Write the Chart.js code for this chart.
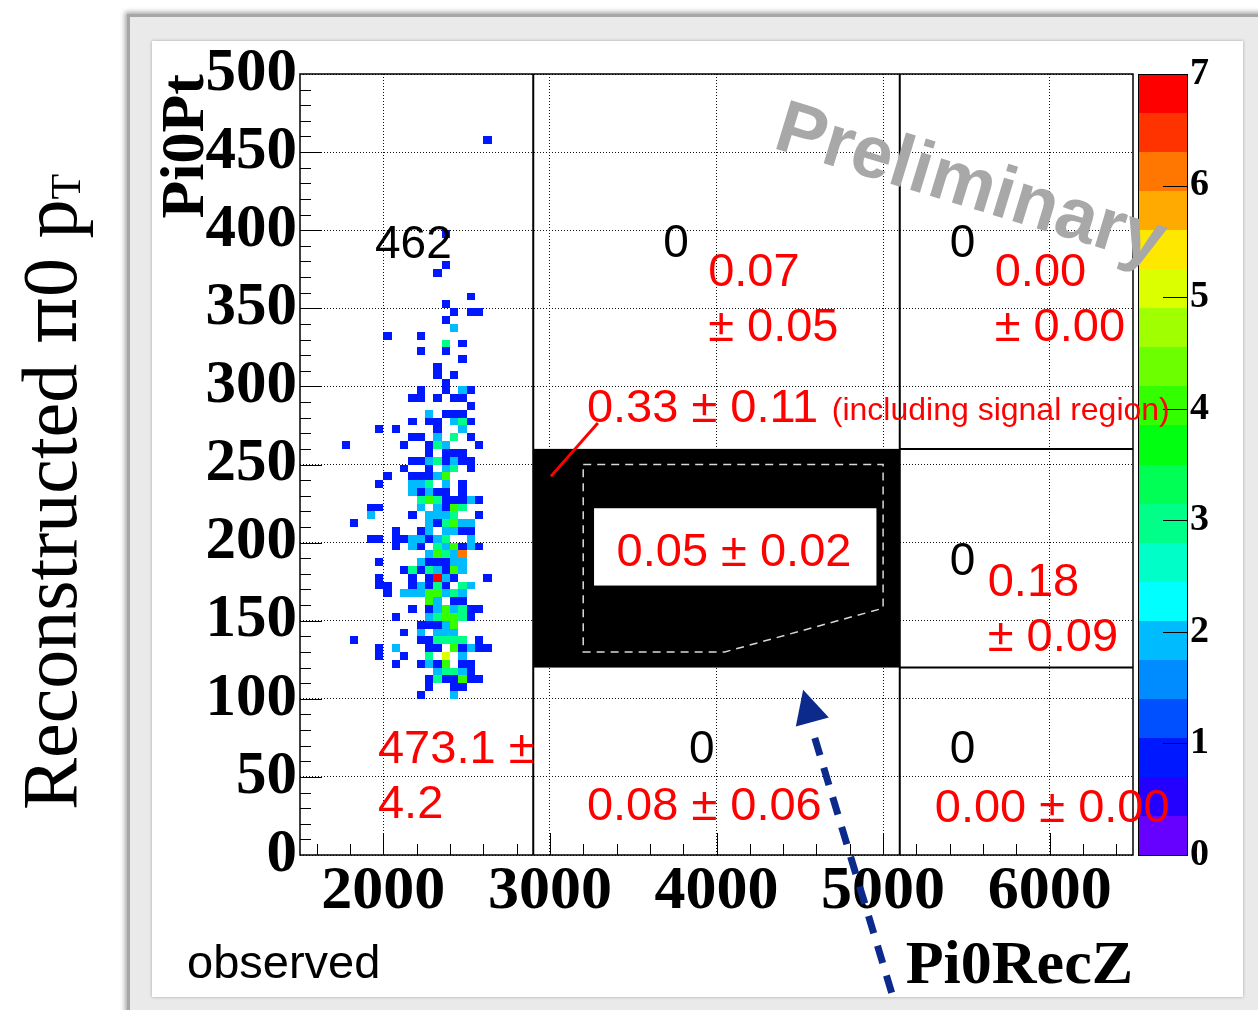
<!DOCTYPE html>
<html>
<head>
<meta charset="utf-8">
<title>Pi0Pt vs Pi0RecZ</title>
<script src="https://cdn.jsdelivr.net/npm/chart.js@4.4.1/dist/chart.umd.min.js"></script>
<style>
  html, body { margin: 0; padding: 0; background: #fff; }
  body { position: relative; width: 1258px; height: 1010px; overflow: hidden; }
  #frame { position: absolute; left: 127px; top: 14px; width: 1200px; height: 1100px;
           background: #eaeaea; border-left: 3px solid #a6a6a6; border-top: 3px solid #a6a6a6;
           box-shadow: -2px -2px 5px rgba(0,0,0,0.35); }
  #panel { position: absolute; left: 152px; top: 41px; width: 1091px; height: 956px;
           background: #fff; box-shadow: 0 0 3px rgba(0,0,0,0.3); }
  #hist { position: absolute; left: 0; top: 0; }
</style>
</head>
<body>
<div id="frame"></div>
<div id="panel"></div>
<canvas id="hist" width="1258" height="1010"></canvas>
<script>
// axis ranges and tick labels
const xRange = [1500, 6500];
const yRange = [0, 500];
const xTicks = [2000, 3000, 4000, 5000, 6000];
const yTicks = [0, 50, 100, 150, 200, 250, 300, 350, 400, 450, 500];
const zTicks = [0, 1, 2, 3, 4, 5, 6, 7];
const zMax = 7;
const xMinorStep = 200, yMinorStep = 10;

// filled bins: [Pi0RecZ low edge, Pi0Pt low edge, entries]
const binW = 50, binH = 5;
const cells = [
  [2600,455,1],
  [2350,395,1],
  [2350,375,1],
  [2300,370,1],
  [2500,355,1],
  [2350,350,1],
  [2400,345,1],[2500,345,1],[2550,345,1],
  [2350,340,1],
  [2400,335,2],
  [2000,330,1],[2200,330,1],
  [2350,325,3],[2450,325,1],
  [2200,320,1],[2350,320,1],
  [2450,315,1],
  [2300,310,1],
  [2300,305,1],[2400,305,1],
  [2350,300,1],
  [2200,295,1],[2350,295,1],[2450,295,2],[2500,295,1],
  [2150,290,1],[2200,290,1],[2300,290,1],[2400,290,1],[2450,290,1],
  [2500,285,1],
  [2250,280,2],[2350,280,1],[2400,280,1],[2450,280,1],
  [2150,275,1],[2250,275,1],[2300,275,1],[2400,275,2],[2450,275,3],[2500,275,1],
  [1950,270,1],[2050,270,1],[2300,270,1],[2450,270,2],
  [2150,265,1],[2200,265,1],[2300,265,2],[2400,265,3],[2500,265,1],
  [1750,260,1],[2100,260,1],[2250,260,1],[2300,260,3],[2350,260,2],[2550,260,1],
  [2250,255,1],[2350,255,1],[2400,255,1],[2450,255,1],
  [2150,250,1],[2200,250,1],[2250,250,2],[2300,250,3],[2350,250,1],[2400,250,2],[2450,250,1],[2500,250,1],
  [2100,245,1],[2250,245,1],[2350,245,2],[2400,245,3],[2500,245,1],
  [2000,240,1],[2150,240,1],[2200,240,1],[2250,240,1],[2300,240,2],[2350,240,4],
  [1950,235,1],[2150,235,2],[2200,235,2],[2250,235,3],[2350,235,2],[2450,235,1],
  [2150,230,2],[2200,230,1],[2250,230,2],[2300,230,1],[2350,230,1],[2450,230,1],
  [2200,225,3],[2250,225,4],[2300,225,3],[2350,225,1],[2400,225,1],[2450,225,1],[2500,225,2],[2550,225,1],
  [1900,220,1],[1950,220,1],[2200,220,2],[2300,220,2],[2350,220,1],[2400,220,4],[2450,220,3],
  [1900,215,2],[2150,215,1],[2250,215,2],[2300,215,2],[2350,215,2],[2400,215,3],[2550,215,1],
  [1800,210,1],[2250,210,2],[2300,210,1],[2350,210,3],[2400,210,4],[2450,210,2],[2500,210,2],
  [2050,205,1],[2200,205,1],[2250,205,2],[2350,205,2],[2400,205,2],[2450,205,1],[2500,205,1],
  [1900,200,1],[1950,200,1],[2050,200,1],[2100,200,1],[2150,200,2],[2200,200,2],[2250,200,1],[2300,200,2],[2350,200,3],[2500,200,2],
  [2050,195,1],[2150,195,2],[2200,195,1],[2300,195,3],[2350,195,2],[2400,195,4],[2450,195,1],[2500,195,2],[2550,195,1],
  [2250,190,2],[2300,190,4],[2350,190,3],[2400,190,2],[2450,190,6],
  [1950,185,1],[2200,185,2],[2250,185,1],[2300,185,1],[2350,185,1],[2400,185,2],[2450,185,2],
  [2100,180,1],[2150,180,3],[2200,180,1],[2250,180,3],[2300,180,2],[2350,180,1],[2400,180,4],[2450,180,2],
  [1950,175,1],[2150,175,1],[2250,175,1],[2300,175,7],[2350,175,2],[2400,175,1],[2600,175,1],
  [1950,170,1],[2000,170,1],[2150,170,1],[2200,170,2],[2250,170,1],[2300,170,3],[2350,170,1],[2450,170,3],[2500,170,2],
  [2000,165,1],[2100,165,2],[2150,165,2],[2200,165,2],[2250,165,4],[2300,165,4],[2350,165,2],[2400,165,3],[2450,165,2],
  [2250,160,4],[2300,160,2],[2400,160,1],[2450,160,1],
  [2150,155,1],[2250,155,1],[2300,155,2],[2350,155,4],[2400,155,2],[2450,155,3],[2500,155,1],[2550,155,1],
  [2050,150,1],[2250,150,2],[2300,150,3],[2350,150,4],[2400,150,4],[2450,150,3],[2500,150,1],
  [2200,145,1],[2250,145,1],[2300,145,1],[2350,145,2],[2400,145,4],
  [2100,140,1],[2200,140,2],[2300,140,2],[2350,140,2],[2400,140,2],
  [1800,135,1],[2200,135,1],[2250,135,1],[2300,135,3],[2350,135,3],[2400,135,3],[2450,135,3],[2550,135,1],
  [1950,130,1],[2050,130,2],[2250,130,1],[2300,130,1],[2400,130,4],[2450,130,1],[2500,130,2],[2550,130,1],[2600,130,1],
  [1950,125,1],[2100,125,1],[2250,125,3],[2350,125,5],[2450,125,2],
  [2050,120,1],[2200,120,1],[2250,120,2],[2300,120,1],[2350,120,4],[2450,120,1],[2500,120,1],
  [2300,115,2],[2350,115,3],[2400,115,3],[2450,115,2],[2500,115,1],
  [2250,110,1],[2300,110,3],[2350,110,1],[2400,110,1],[2450,110,4],[2500,110,1],[2550,110,1],
  [2250,105,1],[2400,105,1],[2450,105,1],
  [2200,100,1],[2400,100,2]
];

// 20 contour colours, lowest first
const palette = [
  '#6600ff','#2400ff','#0018ff','#0050ff','#008cff','#00bcff','#00ffff','#00ffc8','#00ff88','#00ff55',
  '#00ff10','#33ff00','#6cff00','#a0ff00','#dcff00','#ffe800','#ffaa00','#ff7700','#ff3300','#ff0000'
];

// region boundaries along Pi0RecZ and Pi0Pt
const zCuts = [2900, 5100];
const ptCuts = [120, 260];
// blinded signal window outline
const signalWindow = [[3200,250],[5000,250],[5000,158],[4050,130],[3200,130]];

// regions counted for the observed numbers: [z low, z high, pt low, pt high]
const regions = [
  [1500, 2900, 0, 500],
  [2900, 5100, 260, 500],
  [5100, 6500, 260, 500],
  [5100, 6500, 120, 260],
  [2900, 5100, 0, 120],
  [5100, 6500, 0, 120]
];
// expected background in each region (same order), then the signal box values
const estimates = ['473.1 ±\n4.2', '0.07\n± 0.05', '0.00\n± 0.00', '0.18\n± 0.09', '0.08 ± 0.06', '0.00 ± 0.00'];
const signalWithRegion = '0.33 ± 0.11';
const signalOnly = '0.05 ± 0.02';

const SERIF = "'Liberation Serif', 'Times New Roman', serif";
const SANS = "'Liberation Sans', Arial, Helvetica, sans-serif";
const RED = '#ff0000';

function cellColor(n) {
  const i = Math.floor(n / (zMax / palette.length));
  return palette[Math.min(palette.length - 1, i)];
}

function countIn(r) {
  return cells
    .filter(c => c[0] >= r[0] && c[0] < r[1] && c[1] >= r[2] && c[1] < r[3])
    .reduce((s, c) => s + c[2], 0);
}

// draws each bin as a filled rectangle on the x/y scales
const cellsPlugin = {
  id: 'cells',
  beforeDatasetsDraw(chart) {
    const { ctx, chartArea: a, scales: { x, y } } = chart;
    ctx.save();
    ctx.beginPath();
    ctx.rect(a.left, a.top, a.right - a.left, a.bottom - a.top);
    ctx.clip();
    chart.data.datasets[0].data.forEach(p => {
      const x0 = Math.round(x.getPixelForValue(p.x));
      const x1 = Math.round(x.getPixelForValue(p.x + binW));
      const y0 = Math.round(y.getPixelForValue(p.y + binH));
      const y1 = Math.round(y.getPixelForValue(p.y));
      ctx.fillStyle = cellColor(p.v);
      ctx.fillRect(x0, y0, x1 - x0, y1 - y0);
    });
    ctx.restore();
  }
};

// region boxes, frame, ticks, colour scale and all the text on top
const overlayPlugin = {
  id: 'overlay',
  afterDatasetsDraw(chart) {
    const { ctx, chartArea: a, scales: { x, y, z } } = chart;
    const X = v => x.getPixelForValue(v);
    const Y = v => y.getPixelForValue(v);
    ctx.save();

    // signal region
    ctx.fillStyle = '#000';
    ctx.fillRect(X(zCuts[0]), Y(ptCuts[1]), X(zCuts[1]) - X(zCuts[0]), Y(ptCuts[0]) - Y(ptCuts[1]));
    ctx.strokeStyle = '#d8d8d8';
    ctx.lineWidth = 1.5;
    ctx.setLineDash([8, 6]);
    ctx.beginPath();
    signalWindow.forEach((p, i) => i ? ctx.lineTo(X(p[0]), Y(p[1])) : ctx.moveTo(X(p[0]), Y(p[1])));
    ctx.closePath();
    ctx.stroke();
    ctx.setLineDash([]);
    ctx.fillStyle = '#fff';
    ctx.fillRect(X(3265), Y(222), X(4960) - X(3265), Y(172.5) - Y(222));

    // region boundaries
    ctx.strokeStyle = '#000';
    ctx.lineWidth = 2;
    ctx.beginPath();
    zCuts.forEach(v => { ctx.moveTo(X(v), a.top); ctx.lineTo(X(v), a.bottom); });
    ptCuts.forEach(v => { ctx.moveTo(X(zCuts[1]), Y(v)); ctx.lineTo(a.right, Y(v)); });
    ctx.stroke();

    // frame and inward ticks
    ctx.lineWidth = 1.5;
    ctx.strokeRect(a.left, a.top, a.right - a.left, a.bottom - a.top);
    ctx.lineWidth = 1;
    ctx.beginPath();
    for (let v = xRange[0] + 100; v < xRange[1]; v += xMinorStep) {
      const len = v % 1000 === 0 ? 22 : 11;
      const px = Math.round(X(v)) + 0.5;
      ctx.moveTo(px, a.bottom); ctx.lineTo(px, a.bottom - len);
    }
    for (let v = yRange[0] + yMinorStep; v < yRange[1]; v += yMinorStep) {
      const len = v % 50 === 0 ? 22 : 11;
      const py = Math.round(Y(v)) + 0.5;
      ctx.moveTo(a.left, py); ctx.lineTo(a.left + len, py);
    }
    ctx.stroke();

    // colour scale
    const cbL = Math.round(z.left + 5), cbR = Math.round(z.left + 54);
    palette.forEach((col, i) => {
      const y0 = Math.round(z.getPixelForValue(zMax * (i + 1) / palette.length));
      const y1 = Math.round(z.getPixelForValue(zMax * i / palette.length));
      ctx.fillStyle = col;
      ctx.fillRect(cbL, y0, cbR - cbL, y1 - y0);
    });
    ctx.strokeStyle = '#000';
    ctx.lineWidth = 1;
    ctx.strokeRect(cbL + 0.5, z.top + 0.5, cbR - cbL, z.bottom - z.top);
    ctx.beginPath();
    zTicks.forEach(v => {
      const py = Math.round(z.getPixelForValue(v)) + 0.5;
      ctx.moveTo(cbR - 24, py); ctx.lineTo(cbR, py);
    });
    ctx.stroke();

    // observed counts
    const spots = [[1950, 382], [3680, 383], [5400, 383], [5400, 179], [3835, 59], [5400, 59]];
    ctx.font = '46px ' + SANS;
    ctx.textAlign = 'left';
    ctx.textBaseline = 'alphabetic';
    ctx.fillStyle = '#000';
    regions.forEach((r, i) => ctx.fillText(String(countIn(r)), X(spots[i][0]), Y(spots[i][1])));

    // background estimates
    const estSpots = [[1968, 59], [3950, 364.5], [5670, 364.5], [5628, 165.6], [3222, 22.6], [5310, 21.3]];
    ctx.font = '47px ' + SANS;
    ctx.fillStyle = RED;
    estimates.forEach((s, i) => {
      s.split('\n').forEach((line, k) => ctx.fillText(line, X(estSpots[i][0]), Y(estSpots[i][1]) + k * 55));
    });
    ctx.fillText(signalWithRegion, X(3222), Y(277.3));
    ctx.font = '32px ' + SANS;
    ctx.fillText('(including signal region)', X(4692), Y(278.6));
    ctx.font = '47px ' + SANS;
    ctx.textAlign = 'center';
    ctx.fillText(signalOnly, X(4105), Y(184.8));
    ctx.textAlign = 'left';

    // pointer from the label to the signal box
    ctx.strokeStyle = RED;
    ctx.lineWidth = 3;
    ctx.beginPath();
    ctx.moveTo(X(3288), Y(276.5));
    ctx.lineTo(X(3006), Y(242.4));
    ctx.stroke();

    // Preliminary stamp
    ctx.save();
    ctx.translate(X(4330), Y(453));
    ctx.rotate(17 * Math.PI / 180);
    ctx.font = 'bold 74px ' + SANS;
    ctx.fillStyle = '#a8a8a8';
    ctx.fillText('Preliminary', 0, 0);
    ctx.restore();

    // dashed arrow towards the signal box
    ctx.strokeStyle = '#0c2a8c';
    ctx.fillStyle = '#0c2a8c';
    ctx.lineWidth = 7;
    ctx.setLineDash([18, 13]);
    ctx.beginPath();
    ctx.moveTo(X(4590), Y(74.9));
    ctx.lineTo(X(5064), Y(-92.6));
    ctx.stroke();
    ctx.setLineDash([]);
    ctx.beginPath();
    ctx.moveTo(X(4520), Y(105.8));
    ctx.lineTo(X(4476), Y(82.3));
    ctx.lineTo(X(4674), Y(88.1));
    ctx.closePath();
    ctx.fill();

    // page texts
    ctx.fillStyle = '#000';
    ctx.font = '47px ' + SANS;
    ctx.fillText('observed', 187, 978);

    // rotated page title, pieced together so pi gets an upright glyph
    ctx.save();
    ctx.translate(76, 810);
    ctx.rotate(-Math.PI / 2);
    const parts = [
      ['Reconstructed ', '78px ' + SERIF, 0],
      ['\u03c0', "72px 'DejaVu Serif', serif", 0],
      ['0 p', '78px ' + SERIF, 0],
      ['T', '42px ' + SERIF, 4]
    ];
    let cx = 0;
    parts.forEach(([s, f, dy]) => {
      ctx.font = f;
      ctx.fillText(s, cx, dy);
      cx += ctx.measureText(s).width + (s === 'T' ? 0 : 0);
    });
    ctx.restore();

    ctx.restore();
  }
};

const total = cells.reduce((s, c) => s + c[2], 0);

new Chart(document.getElementById('hist'), {
  type: 'scatter',
  data: {
    datasets: [{
      label: 'Pi0Pt:Pi0RecZ (' + total + ')',
      data: cells.map(c => ({ x: c[0], y: c[1], v: c[2] })),
      pointRadius: 0,
      pointHoverRadius: 0,
      pointBorderWidth: 0
    }]
  },
  options: {
    responsive: false,
    animation: false,
    devicePixelRatio: 1,
    events: [],
    layout: { autoPadding: false, padding: { left: 150, top: 74, right: 20, bottom: 2 } },
    plugins: { legend: { display: false }, tooltip: { enabled: false } },
    scales: {
      x: {
        type: 'linear', min: xRange[0], max: xRange[1],
        afterBuildTicks: s => { s.ticks = xTicks.map(v => ({ value: v })); },
        afterFit: s => { s.height = 153; },
        grid: { color: '#111', lineWidth: 1, drawTicks: false },
        border: { display: false, dash: [1, 2] },
        ticks: { color: '#000', padding: 0, maxRotation: 0, autoSkip: false,
                 callback: v => String(v),
                 font: { family: SERIF, weight: 'bold', size: 62 } },
        title: { display: true, text: 'Pi0RecZ', align: 'end', color: '#000',
                 padding: { top: 0, bottom: 4 },
                 font: { family: SERIF, weight: 'bold', size: 62 } }
      },
      y: {
        type: 'linear', min: yRange[0], max: yRange[1],
        afterBuildTicks: s => { s.ticks = yTicks.map(v => ({ value: v })); },
        afterFit: s => { s.width = 150; },
        grid: { color: '#111', lineWidth: 1, drawTicks: false },
        border: { display: false, dash: [1, 2] },
        ticks: { color: '#000', padding: 3, autoSkip: false,
                 callback: v => String(v),
                 font: { family: SERIF, weight: 'bold', size: 61 } },
        title: { display: true, text: 'Pi0Pt', align: 'end', color: '#000',
                 padding: { top: 0, bottom: 0 },
                 font: { family: SERIF, weight: 'bold', size: 62 } }
      },
      z: {
        type: 'linear', axis: 'y', position: 'right', min: 0, max: zMax,
        afterBuildTicks: s => { s.ticks = zTicks.map(v => ({ value: v })); },
        afterFit: s => { s.width = 105; },
        // the tick-mark gap leaves room for the colour bar; marks themselves are drawn by the overlay
        grid: { display: true, drawOnChartArea: false, drawTicks: true, tickLength: 54,
                tickColor: 'rgba(0,0,0,0)' },
        border: { display: false },
        ticks: { color: '#000', padding: 3,
                 callback: v => String(v),
                 font: { family: SERIF, weight: 'bold', size: 38 } }
      }
    }
  },
  plugins: [cellsPlugin, overlayPlugin]
});
</script>
</body>
</html>
